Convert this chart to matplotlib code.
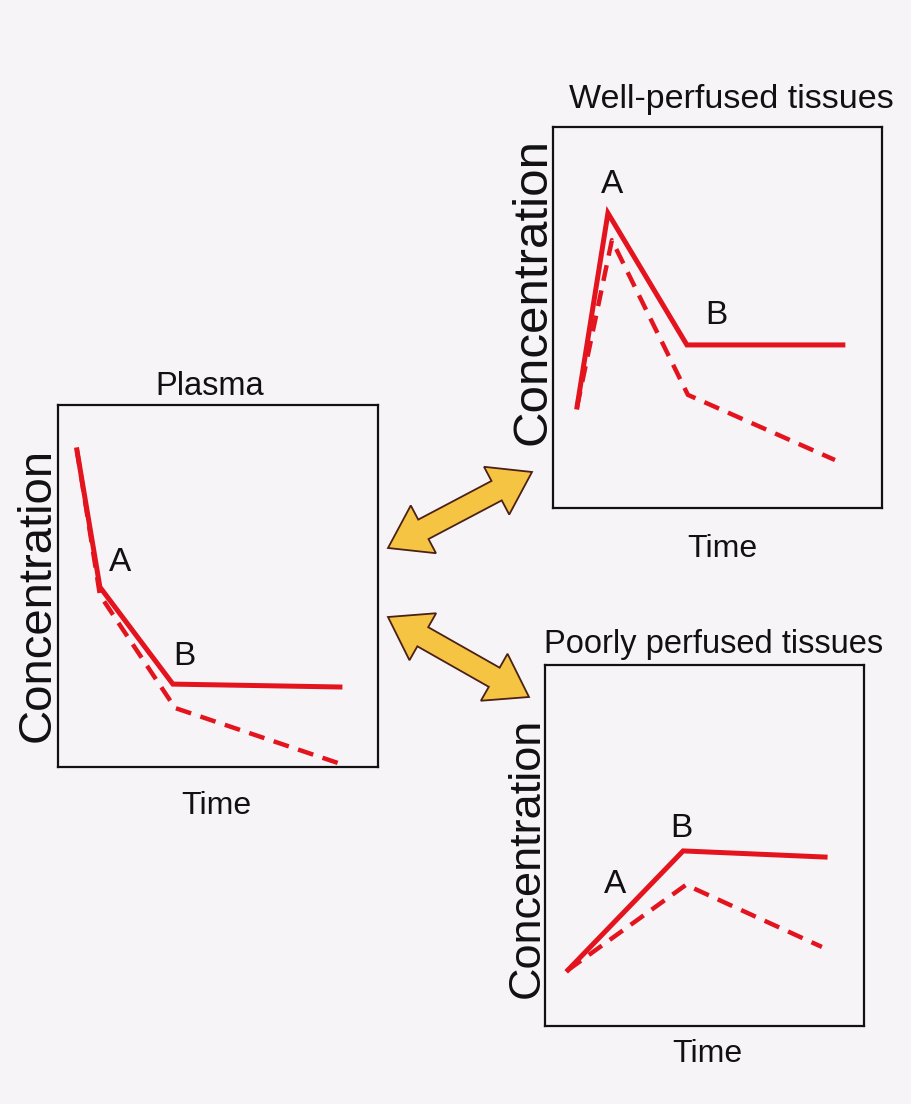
import numpy as np
import matplotlib
matplotlib.use("Agg")
import matplotlib.pyplot as plt
from matplotlib.patches import Polygon

plt.rcParams['font.family'] = ['Liberation Sans', 'DejaVu Sans']

# ---- data (fractions of each panel's time / concentration range) ----
plasma_time_solid = [0.059, 0.131, 0.359, 0.881]
plasma_conc_solid = [0.876, 0.497, 0.229, 0.221]
plasma_time_dash = [0.059, 0.131, 0.366, 0.875]
plasma_conc_dash = [0.876, 0.475, 0.163, 0.011]
plasma_labels = ["A", "B"]
plasma_label_pos = [(0.194, 0.564), (0.394, 0.304)]

well_time_solid = [0.073, 0.167, 0.407, 0.881]
well_conc_solid = [0.265, 0.774, 0.428, 0.428]
well_time_dash = [0.073, 0.179, 0.410, 0.857]
well_conc_dash = [0.265, 0.703, 0.297, 0.126]
well_labels = ["A", "B"]
well_label_pos = [(0.179, 0.849), (0.498, 0.504)]

poor_time_solid = [0.072, 0.433, 0.878]
poor_conc_solid = [0.155, 0.485, 0.468]
poor_time_dash = [0.072, 0.442, 0.868]
poor_conc_dash = [0.155, 0.391, 0.219]
poor_labels = ["A", "B"]
poor_label_pos = [(0.219, 0.393), (0.426, 0.546)]

titles = ["Plasma", "Well-perfused tissues", "Poorly perfused tissues"]
xlabel = "Time"
ylabel = "Concentration"

BG = "#F7F4F8"
RED = "#E3141E"
INK = "#111111"
W, H = 912, 1104

fig = plt.figure(figsize=(W / 100, H / 100), dpi=100, facecolor=BG)


def add_panel(px0, py0, px1, py1):
    ax = fig.add_axes([px0 / W, 1 - py1 / H, (px1 - px0) / W, (py1 - py0) / H])
    ax.set_facecolor(BG)
    ax.set_xlim(0, 1)
    ax.set_ylim(0, 1)
    ax.set_xticks([])
    ax.set_yticks([])
    for s in ax.spines.values():
        s.set_linewidth(1.6)
        s.set_color(INK)
    return ax


def draw(ax, ts, cs, td, cd, labels, lpos, title, tpos, tsize, xlpos, ylpos, ylsize):
    ax.plot(td, cd, color=RED, lw=3.2, ls=(0, (3.6, 2.2)), solid_capstyle='butt')
    ax.plot(ts, cs, color=RED, lw=3.6, solid_joinstyle='miter')
    for lab, (x, y) in zip(labels, lpos):
        ax.text(x, y, lab, fontsize=24, ha='center', va='center', color=INK)
    ax.text(tpos[0], tpos[1], title, fontsize=tsize, ha='center', va='baseline',
            color=INK, transform=ax.transAxes)
    ax.set_xlabel(xlabel, fontsize=23, color=INK)
    ax.xaxis.set_label_coords(*xlpos)
    ax.xaxis.label.set_va('center')
    ax.set_ylabel(ylabel, fontsize=ylsize, color=INK)
    ax.yaxis.set_label_coords(*ylpos)
    ax.yaxis.label.set_va('center')


ax1 = add_panel(58, 405, 378, 767)
draw(ax1, plasma_time_solid, plasma_conc_solid, plasma_time_dash, plasma_conc_dash,
     plasma_labels, plasma_label_pos, titles[0], (0.475, 1.028), 23.5,
     (0.494, -0.108), (-0.0625, 0.475), 34)

ax2 = add_panel(553, 127, 882, 508)
draw(ax2, well_time_solid, well_conc_solid, well_time_dash, well_conc_dash,
     well_labels, well_label_pos, titles[1], (0.541, 1.050), 24.5,
     (0.514, -0.107), (-0.061, 0.567), 35.5)

ax3 = add_panel(545, 665, 864, 1026)
draw(ax3, poor_time_solid, poor_conc_solid, poor_time_dash, poor_conc_dash,
     poor_labels, poor_label_pos, titles[2], (0.528, 1.033), 23.5,
     (0.508, -0.078), (-0.056, 0.465), 32.5)

# ---- double-headed block arrows (overlay in pixel coords) ----
ov = fig.add_axes([0, 0, 1, 1], zorder=5)
ov.set_xlim(0, W)
ov.set_ylim(H, 0)
ov.axis('off')
ov.patch.set_alpha(0)


def double_arrow(p0, p1, shaft=22, head_w=54, head_l=40):
    p0 = np.array(p0, float)
    p1 = np.array(p1, float)
    d = p1 - p0
    L = np.hypot(*d)
    u = d / L
    n = np.array([-u[1], u[0]])
    a = p0 + u * head_l
    b = p1 - u * head_l
    pts = [p0,
           a + n * head_w / 2, a + n * shaft / 2,
           b + n * shaft / 2, b + n * head_w / 2,
           p1,
           b - n * head_w / 2, b - n * shaft / 2,
           a - n * shaft / 2, a - n * head_w / 2]
    ov.add_patch(Polygon(pts, closed=True, facecolor="#F6C443", edgecolor="#4A2018",
                         lw=1.3, joinstyle='miter'))


double_arrow((388, 548), (532, 472))
double_arrow((388, 617), (529, 697))

fig.savefig("out.png", dpi=100, facecolor=BG)
